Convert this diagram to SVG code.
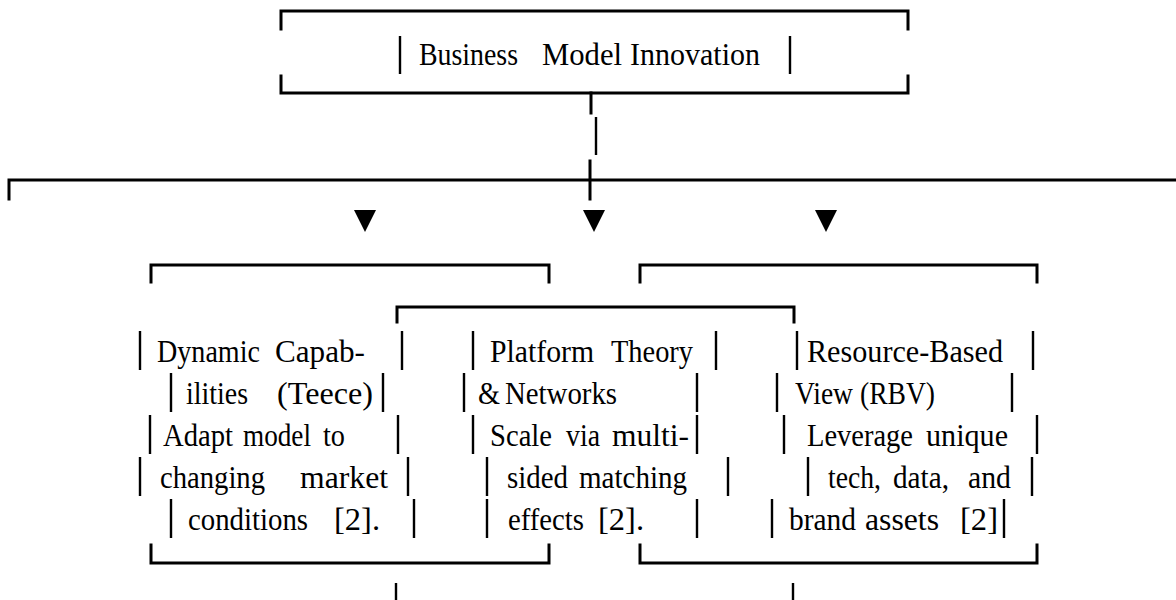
<svg xmlns="http://www.w3.org/2000/svg" width="1176" height="600" viewBox="0 0 1176 600">
  <style>
    .ln{stroke:#000;stroke-width:3;fill:none;stroke-linecap:square}
    .bar{stroke:#000;stroke-width:2.4;fill:none}
    .t{font-family:"Liberation Serif","Times New Roman",serif;font-size:32px;fill:#000}
    .tri{fill:#000}
  </style>
  <rect width="1176" height="600" fill="#fff"/>

  <!-- root box -->
  <g id="node-bmi">
    <path class="ln" d="M281,29 V11 H908 V29 M281,76 V93 H908 V76"/>
    <path class="bar" d="M400,36 V74 M790,36 V74"/>
    <text class="t" x="419" y="65" textLength="99" lengthAdjust="spacingAndGlyphs">Business</text>
    <text class="t" x="542" y="65" textLength="80" lengthAdjust="spacingAndGlyphs">Model</text>
    <text class="t" x="630" y="65" textLength="130" lengthAdjust="spacingAndGlyphs">Innovation</text>
  </g>

  <!-- tree connectors -->
  <g id="connectors">
    <path class="ln" d="M591,93 V113"/>
    <path class="bar" d="M596,117 V155"/>
    <path class="ln" d="M590,161 V199 M9,199 V180 H1176"/>
    <polygon class="tri" points="354,210 376,210 365,232"/>
    <polygon class="tri" points="583,210 605,210 594,232"/>
    <polygon class="tri" points="815,210 837,210 826,232"/>
    <path class="bar" d="M396,583 V600 M793,583 V600"/>
  </g>

  <!-- Dynamic Capabilities -->
  <g id="node-dynamic">
    <path class="ln" d="M151,282 V265 H549 V282 M151,545 V563 H549 V545"/>
    <path class="bar" d="M140,331 V370 M402,331 V370 M171,373 V412 M383,373 V412 M150,415 V454 M398,415 V454 M140,457 V496 M408,457 V496 M171,499 V538 M414,499 V538"/>
    <text class="t" x="157" y="362" textLength="103" lengthAdjust="spacingAndGlyphs">Dynamic</text>
    <text class="t" x="275" y="362" textLength="90" lengthAdjust="spacingAndGlyphs">Capab-</text>
    <text class="t" x="186" y="404" textLength="62" lengthAdjust="spacingAndGlyphs">ilities</text>
    <text class="t" x="277" y="404" textLength="96" lengthAdjust="spacingAndGlyphs">(Teece)</text>
    <text class="t" x="163" y="446" textLength="70" lengthAdjust="spacingAndGlyphs">Adapt</text>
    <text class="t" x="243" y="446" textLength="68" lengthAdjust="spacingAndGlyphs">model</text>
    <text class="t" x="323" y="446" textLength="22" lengthAdjust="spacingAndGlyphs">to</text>
    <text class="t" x="160" y="488" textLength="105" lengthAdjust="spacingAndGlyphs">changing</text>
    <text class="t" x="300" y="488" textLength="88" lengthAdjust="spacingAndGlyphs">market</text>
    <text class="t" x="188" y="530" textLength="120" lengthAdjust="spacingAndGlyphs">conditions</text>
    <text class="t" x="334" y="530" textLength="46" lengthAdjust="spacingAndGlyphs">[2].</text>
  </g>

  <!-- Platform Theory -->
  <g id="node-platform">
    <path class="ln" d="M397,322 V307 H794 V322"/>
    <path class="bar" d="M473,331 V370 M716,331 V370 M464,373 V412 M697,373 V412 M473,415 V454 M697,415 V454 M487,457 V496 M728,457 V496 M487,499 V538 M697,499 V538"/>
    <text class="t" x="490" y="362" textLength="104" lengthAdjust="spacingAndGlyphs">Platform</text>
    <text class="t" x="611" y="362" textLength="82" lengthAdjust="spacingAndGlyphs">Theory</text>
    <text class="t" x="478" y="404" textLength="22" lengthAdjust="spacingAndGlyphs">&amp;</text>
    <text class="t" x="505" y="404" textLength="112" lengthAdjust="spacingAndGlyphs">Networks</text>
    <text class="t" x="490" y="446" textLength="62" lengthAdjust="spacingAndGlyphs">Scale</text>
    <text class="t" x="566" y="446" textLength="34" lengthAdjust="spacingAndGlyphs">via</text>
    <text class="t" x="612" y="446" textLength="77" lengthAdjust="spacingAndGlyphs">multi-</text>
    <text class="t" x="507" y="488" textLength="61" lengthAdjust="spacingAndGlyphs">sided</text>
    <text class="t" x="579" y="488" textLength="108" lengthAdjust="spacingAndGlyphs">matching</text>
    <text class="t" x="508" y="530" textLength="76" lengthAdjust="spacingAndGlyphs">effects</text>
    <text class="t" x="598" y="530" textLength="46" lengthAdjust="spacingAndGlyphs">[2].</text>
  </g>

  <!-- Resource-Based View -->
  <g id="node-rbv">
    <path class="ln" d="M640,282 V265 H1037 V282 M640,545 V563 H1037 V545"/>
    <path class="bar" d="M797,331 V370 M1033,331 V370 M777,373 V412 M1012,373 V412 M784,415 V454 M1037,415 V454 M808,457 V496 M1032,457 V496 M772,499 V538 M1004,499 V538"/>
    <text class="t" x="807" y="362" textLength="196" lengthAdjust="spacingAndGlyphs">Resource-Based</text>
    <text class="t" x="795" y="404" textLength="58" lengthAdjust="spacingAndGlyphs">View</text>
    <text class="t" x="860" y="404" textLength="75" lengthAdjust="spacingAndGlyphs">(RBV)</text>
    <text class="t" x="807" y="446" textLength="106" lengthAdjust="spacingAndGlyphs">Leverage</text>
    <text class="t" x="926" y="446" textLength="82" lengthAdjust="spacingAndGlyphs">unique</text>
    <text class="t" x="828" y="488" textLength="53" lengthAdjust="spacingAndGlyphs">tech,</text>
    <text class="t" x="893" y="488" textLength="56" lengthAdjust="spacingAndGlyphs">data,</text>
    <text class="t" x="968" y="488" textLength="43" lengthAdjust="spacingAndGlyphs">and</text>
    <text class="t" x="789" y="530" textLength="67" lengthAdjust="spacingAndGlyphs">brand</text>
    <text class="t" x="865" y="530" textLength="74" lengthAdjust="spacingAndGlyphs">assets</text>
    <text class="t" x="960" y="530" textLength="38" lengthAdjust="spacingAndGlyphs">[2]</text>
  </g>
</svg>
